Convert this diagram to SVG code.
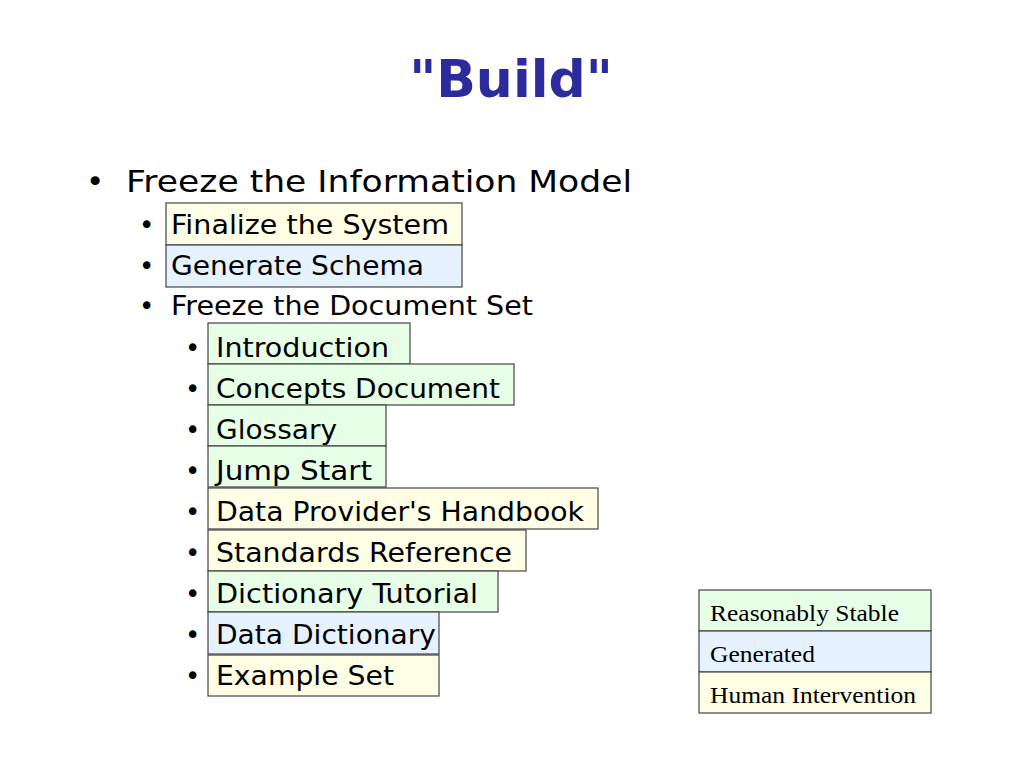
<svg xmlns="http://www.w3.org/2000/svg" width="1024" height="768" viewBox="0 0 1024 768">
<style>
.t{font-family:"DejaVu Sans","Liberation Sans",sans-serif;fill:#000}
.l1{font-size:31px}
.l2{font-size:26px}
.b{stroke:#444;stroke-width:1.2}
.y{fill:#FFFFE5}
.bl{fill:#E6F2FF}
.g{fill:#E6FFE6}
.lg{font-family:"Liberation Serif",serif;font-size:24px;fill:#000}
</style>
<rect width="1024" height="768" fill="#fff"/>
<text x="511" y="97" text-anchor="middle" font-family="DejaVu Sans, sans-serif" font-weight="bold" font-size="52" fill="#2B2B9E">"Build"</text>
<g id="level1">
<text class="t l1" x="86" y="192">•</text>
<text class="t l1" x="126" y="192" textLength="506" lengthAdjust="spacingAndGlyphs">Freeze the Information Model</text>
</g>
<g id="finalize"><rect class="b y" x="166" y="203" width="296" height="42"/><text class="t l2" x="139" y="234">•</text><text class="t l2" x="171" y="234" textLength="278" lengthAdjust="spacingAndGlyphs">Finalize the System</text></g>
<g id="schema"><rect class="b bl" x="166" y="245" width="296" height="42"/><text class="t l2" x="139" y="275">•</text><text class="t l2" x="171" y="275" textLength="253" lengthAdjust="spacingAndGlyphs">Generate Schema</text></g>
<g id="docset"><text class="t l2" x="139" y="315">•</text><text class="t l2" x="171" y="315" textLength="362" lengthAdjust="spacingAndGlyphs">Freeze the Document Set</text></g>
<g id="intro"><rect class="b g" x="208" y="323" width="202" height="41"/><text class="t l2" x="185" y="357">•</text><text class="t l2" x="216" y="357" textLength="173" lengthAdjust="spacingAndGlyphs">Introduction</text></g>
<g id="concepts"><rect class="b g" x="208" y="364" width="306" height="41"/><text class="t l2" x="185" y="398">•</text><text class="t l2" x="216" y="398" textLength="284" lengthAdjust="spacingAndGlyphs">Concepts Document</text></g>
<g id="glossary"><rect class="b g" x="208" y="405" width="178" height="41"/><text class="t l2" x="185" y="439">•</text><text class="t l2" x="216" y="439" textLength="121" lengthAdjust="spacingAndGlyphs">Glossary</text></g>
<g id="jumpstart"><rect class="b g" x="208" y="446" width="178" height="41"/><text class="t l2" x="185" y="480">•</text><text class="t l2" x="216" y="480" textLength="156" lengthAdjust="spacingAndGlyphs">Jump Start</text></g>
<g id="handbook"><rect class="b y" x="208" y="488" width="390" height="41"/><text class="t l2" x="185" y="521">•</text><text class="t l2" x="216" y="521" textLength="368" lengthAdjust="spacingAndGlyphs">Data Provider's Handbook</text></g>
<g id="standards"><rect class="b y" x="208" y="530" width="318" height="41"/><text class="t l2" x="185" y="562">•</text><text class="t l2" x="216" y="562" textLength="296" lengthAdjust="spacingAndGlyphs">Standards Reference</text></g>
<g id="tutorial"><rect class="b g" x="208" y="571" width="290" height="41"/><text class="t l2" x="185" y="603">•</text><text class="t l2" x="216" y="603" textLength="262" lengthAdjust="spacingAndGlyphs">Dictionary Tutorial</text></g>
<g id="datadict"><rect class="b bl" x="208" y="612" width="231" height="42"/><text class="t l2" x="185" y="644">•</text><text class="t l2" x="216" y="644" textLength="220" lengthAdjust="spacingAndGlyphs">Data Dictionary</text></g>
<g id="example"><rect class="b y" x="208" y="655" width="231" height="41"/><text class="t l2" x="185" y="685">•</text><text class="t l2" x="216" y="685" textLength="178" lengthAdjust="spacingAndGlyphs">Example Set</text></g>
<g id="legend">
<rect class="b g" x="699" y="590" width="232" height="41"/><text class="lg" x="710" y="621" textLength="189" lengthAdjust="spacingAndGlyphs">Reasonably Stable</text>
<rect class="b bl" x="699" y="631" width="232" height="41"/><text class="lg" x="710" y="662" textLength="105" lengthAdjust="spacingAndGlyphs">Generated</text>
<rect class="b y" x="699" y="672" width="232" height="41"/><text class="lg" x="710" y="703" textLength="206" lengthAdjust="spacingAndGlyphs">Human Intervention</text>
</g>
</svg>
